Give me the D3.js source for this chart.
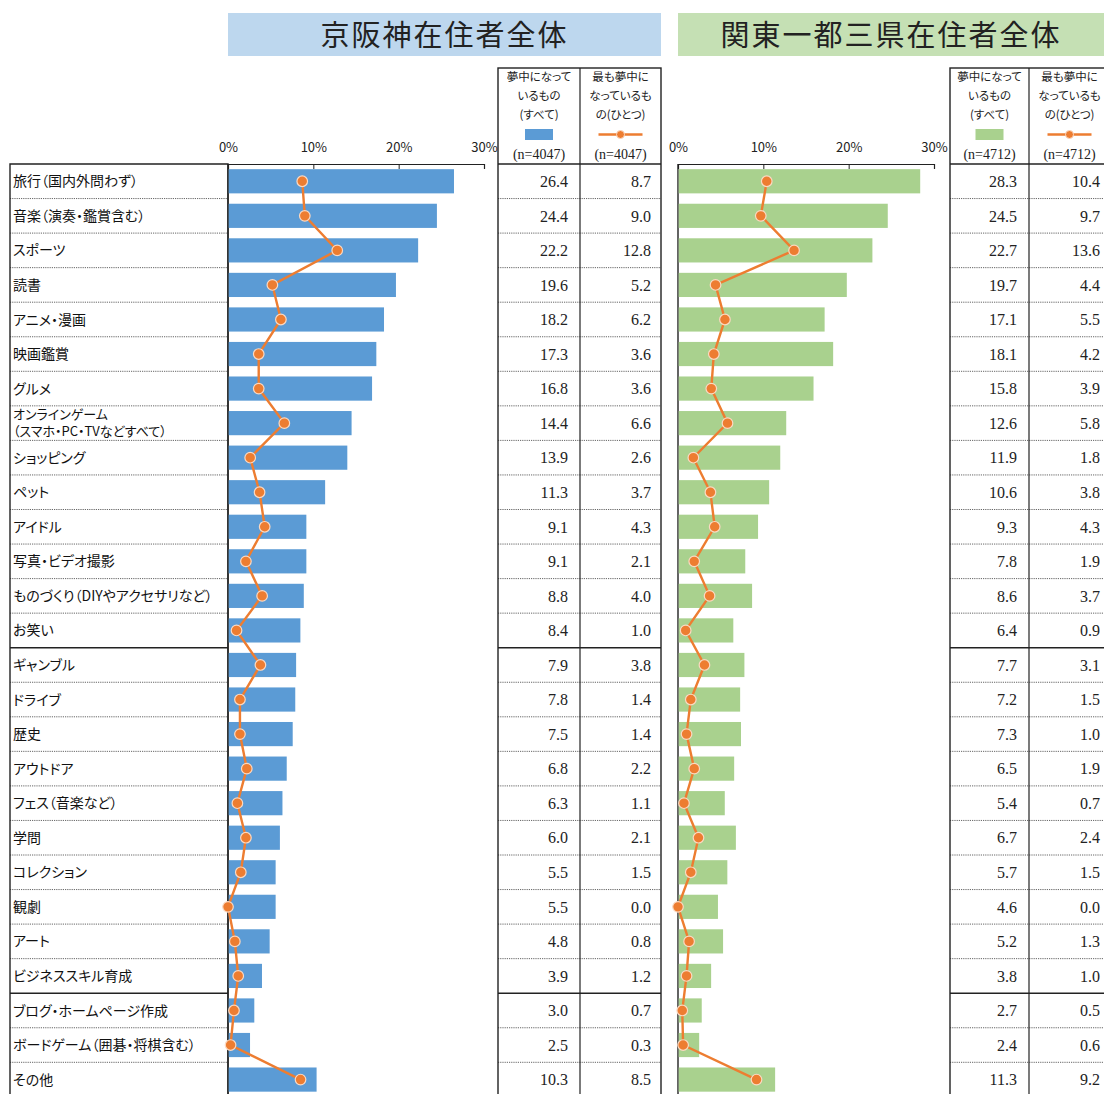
<!DOCTYPE html>
<html lang="ja">
<head>
<meta charset="utf-8">
<script src="https://cdn.jsdelivr.net/npm/d3@7"></script>
<style>
  html, body { margin: 0; padding: 0; background: #fff; }
  svg { display: block; }
  .jp { font-family: "Noto Sans CJK JP", "Noto Sans", sans-serif; }
  .lab { font-feature-settings: "palt"; }
  .num { font-family: "Liberation Serif", "DejaVu Serif", serif; }
</style>
</head>
<body>
<svg id="chart" width="1104" height="1094"></svg>
<script>
// Categories (top to bottom)
const categories = [
  "旅行（国内外問わず）", "音楽（演奏・鑑賞含む）", "スポーツ", "読書", "アニメ・漫画",
  "映画鑑賞", "グルメ", "オンラインゲーム\n（スマホ・PC・TVなどすべて）", "ショッピング", "ペット",
  "アイドル", "写真・ビデオ撮影", "ものづくり（DIYやアクセサリなど）", "お笑い", "ギャンブル",
  "ドライブ", "歴史", "アウトドア", "フェス（音楽など）", "学問",
  "コレクション", "観劇", "アート", "ビジネススキル育成", "ブログ・ホームページ作成",
  "ボードゲーム（囲碁・将棋含む）", "その他"
];

// 京阪神在住者全体 (%)
const kansaiAll = [26.4, 24.4, 22.2, 19.6, 18.2, 17.3, 16.8, 14.4, 13.9, 11.3, 9.1, 9.1, 8.8, 8.4,
  7.9, 7.8, 7.5, 6.8, 6.3, 6.0, 5.5, 5.5, 4.8, 3.9, 3.0, 2.5, 10.3];
const kansaiTop = [8.7, 9.0, 12.8, 5.2, 6.2, 3.6, 3.6, 6.6, 2.6, 3.7, 4.3, 2.1, 4.0, 1.0,
  3.8, 1.4, 1.4, 2.2, 1.1, 2.1, 1.5, 0.0, 0.8, 1.2, 0.7, 0.3, 8.5];

// 関東一都三県在住者全体 (%)
const kantoAll = [28.3, 24.5, 22.7, 19.7, 17.1, 18.1, 15.8, 12.6, 11.9, 10.6, 9.3, 7.8, 8.6, 6.4,
  7.7, 7.2, 7.3, 6.5, 5.4, 6.7, 5.7, 4.6, 5.2, 3.8, 2.7, 2.4, 11.3];
const kantoTop = [10.4, 9.7, 13.6, 4.4, 5.5, 4.2, 3.9, 5.8, 1.8, 3.8, 4.3, 1.9, 3.7, 0.9,
  3.1, 1.5, 1.0, 1.9, 0.7, 2.4, 1.5, 0.0, 1.3, 1.0, 0.5, 0.6, 9.2];

const titles = ["京阪神在住者全体", "関東一都三県在住者全体"];
const sampleSizes = ["(n=4047)", "(n=4712)"];
const headAll = ["夢中になって", "いるもの", "(すべて)"];
const headTop = ["最も夢中に", "なっているも", "の(ひとつ)"];
const tickValues = [0, 10, 20, 30];
// rows after which a solid separator is drawn
const solidAfter = [13, 23];

const svg = d3.select("#chart");

const plotTop = 164, rowH = 34.55;
const plotBottom = plotTop + rowH * categories.length;
const y = d3.scaleBand().domain(d3.range(categories.length))
  .range([plotTop, plotBottom]).paddingInner(0.3).paddingOuter(0.15);

const panels = [
  { title: titles[0], n: sampleSizes[0], all: kansaiAll, topv: kansaiTop,
    barColor: "#5b9bd5", titleFill: "#bdd7ee",
    titleX: [228, 661], x: d3.scaleLinear().domain([0, 30]).range([228, 484]),
    table: [498, 580, 661] },
  { title: titles[1], n: sampleSizes[1], all: kantoAll, topv: kantoTop,
    barColor: "#a9d18e", titleFill: "#c5e0b4",
    titleX: [678, 1112], x: d3.scaleLinear().domain([0, 30]).range([678, 934]),
    table: [950, 1029, 1110] }
];

const lineColor = "#ed7d31";

function rowLine(g, x1, x2, i) {
  const yy = plotTop + i * rowH;
  const solid = solidAfter.includes(i - 1);
  g.append("line").attr("x1", x1).attr("x2", x2).attr("y1", yy).attr("y2", yy)
    .attr("stroke", solid ? "#222" : "#666")
    .attr("stroke-width", solid ? 1.4 : 1)
    .attr("stroke-dasharray", solid ? null : "1.2,1");
}

// Category label table
const lab = svg.append("g");
for (let i = 1; i < categories.length; i++) rowLine(lab, 10, 228, i);
categories.forEach((c, i) => {
  const cy = y(i) + y.bandwidth() / 2;
  const parts = c.split("\n");
  parts.forEach((p, k) => {
    const off = parts.length === 1 ? 0 : (k === 0 ? -8.5 : 8.5);
    lab.append("text").attr("class", "jp lab").attr("x", 13)
      .attr("y", cy + off).attr("dy", "0.36em")
      .attr("font-size", parts.length === 1 ? 14 : 13).attr("fill", "#111").text(p);
  });
});
lab.append("path").attr("d", `M228,${plotBottom + 5}V${plotTop}H10V${plotBottom + 5}`)
  .attr("fill", "none").attr("stroke", "#222").attr("stroke-width", 1.4);

panels.forEach(p => {
  const g = svg.append("g");

  // Title banner
  g.append("rect").attr("x", p.titleX[0]).attr("y", 13)
    .attr("width", p.titleX[1] - p.titleX[0]).attr("height", 43)
    .attr("fill", p.titleFill);
  g.append("text").attr("class", "jp")
    .attr("x", (p.titleX[0] + Math.min(p.titleX[1], 1104)) / 2)
    .attr("y", 36).attr("dy", "0.36em").attr("text-anchor", "middle")
    .attr("font-size", 29).attr("letter-spacing", 2).attr("fill", "#222")
    .text(p.title);

  // Axis along the top of the plot
  const axis = d3.axisTop(p.x).tickValues(tickValues)
    .tickSizeInner(-5).tickSizeOuter(-5).tickPadding(12)
    .tickFormat(d => d + "%");
  const ag = g.append("g").attr("transform", `translate(0,${plotTop})`).call(axis);
  ag.select(".domain").attr("stroke", "#222").attr("stroke-width", 1.2);
  ag.selectAll(".tick line").attr("stroke", "#222");
  ag.selectAll(".tick text").attr("class", "jp").attr("font-size", 13).attr("fill", "#222");

  // Left axis line
  g.append("line").attr("x1", p.x(0)).attr("x2", p.x(0)).attr("y1", plotTop).attr("y2", plotBottom + 5)
    .attr("stroke", "#222").attr("stroke-width", 1.4);

  // Bars: all things currently absorbed in
  g.selectAll("rect.bar").data(p.all).join("rect").attr("class", "bar")
    .attr("x", p.x(0) + 0.7).attr("y", (d, i) => y(i))
    .attr("width", d => p.x(d) - p.x(0)).attr("height", y.bandwidth())
    .attr("fill", p.barColor);

  // Line: the single most absorbing thing
  const line = d3.line().x(d => p.x(d)).y((d, i) => y(i) + y.bandwidth() / 2);
  g.append("path").datum(p.topv).attr("d", line)
    .attr("fill", "none").attr("stroke", lineColor).attr("stroke-width", 2.4);
  g.selectAll("circle.pt").data(p.topv).join("circle").attr("class", "pt")
    .attr("cx", d => p.x(d)).attr("cy", (d, i) => y(i) + y.bandwidth() / 2)
    .attr("r", 5.3).attr("fill", lineColor).attr("stroke", "#fbd9c2").attr("stroke-width", 1.2);

  // Value table
  const [t0, t1, t2] = p.table;
  const tg = g.append("g");
  for (let i = 1; i < categories.length; i++) rowLine(tg, t0, t2, i);
  tg.append("rect").attr("x", t0).attr("y", 68).attr("width", t2 - t0).attr("height", plotBottom + 10 - 68)
    .attr("fill", "none").attr("stroke", "#222").attr("stroke-width", 1.4);
  tg.append("line").attr("x1", t1).attr("x2", t1).attr("y1", 68).attr("y2", plotBottom + 10)
    .attr("stroke", "#222").attr("stroke-width", 1.2);
  tg.append("line").attr("x1", t0).attr("x2", t2).attr("y1", plotTop).attr("y2", plotTop)
    .attr("stroke", "#222").attr("stroke-width", 1.4);

  // Header cells
  const c0 = (t0 + t1) / 2, c1 = (t1 + t2) / 2;
  const hy = [77, 96, 115];
  headAll.forEach((s, k) => tg.append("text").attr("class", "jp lab").attr("x", c0).attr("y", hy[k])
    .attr("dy", "0.36em").attr("text-anchor", "middle").attr("font-size", 11.5).attr("fill", "#222").text(s));
  headTop.forEach((s, k) => tg.append("text").attr("class", "jp lab").attr("x", c1).attr("y", hy[k])
    .attr("dy", "0.36em").attr("text-anchor", "middle").attr("font-size", 11.5).attr("fill", "#222").text(s));
  tg.append("rect").attr("x", c0 - 14).attr("y", 129).attr("width", 28).attr("height", 11).attr("fill", p.barColor);
  tg.append("line").attr("x1", c1 - 22).attr("x2", c1 + 22).attr("y1", 134.5).attr("y2", 134.5)
    .attr("stroke", lineColor).attr("stroke-width", 2.4);
  tg.append("circle").attr("cx", c1).attr("cy", 134.5).attr("r", 4).attr("fill", lineColor)
    .attr("stroke", "#fbd9c2").attr("stroke-width", 1);
  [c0, c1].forEach(cx => tg.append("text").attr("class", "num").attr("x", cx).attr("y", 154)
    .attr("dy", "0.36em").attr("text-anchor", "middle").attr("font-size", 14).attr("fill", "#222").text(p.n));

  // Values
  const fmt = d3.format(".1f");
  p.all.forEach((v, i) => tg.append("text").attr("class", "num").attr("x", t1 - 12)
    .attr("y", y(i) + y.bandwidth() / 2).attr("dy", "0.36em").attr("text-anchor", "end")
    .attr("font-size", 16).attr("fill", "#222").text(fmt(v)));
  p.topv.forEach((v, i) => tg.append("text").attr("class", "num").attr("x", t2 - 10)
    .attr("y", y(i) + y.bandwidth() / 2).attr("dy", "0.36em").attr("text-anchor", "end")
    .attr("font-size", 16).attr("fill", "#222").text(fmt(v)));
});
</script>
</body>
</html>
